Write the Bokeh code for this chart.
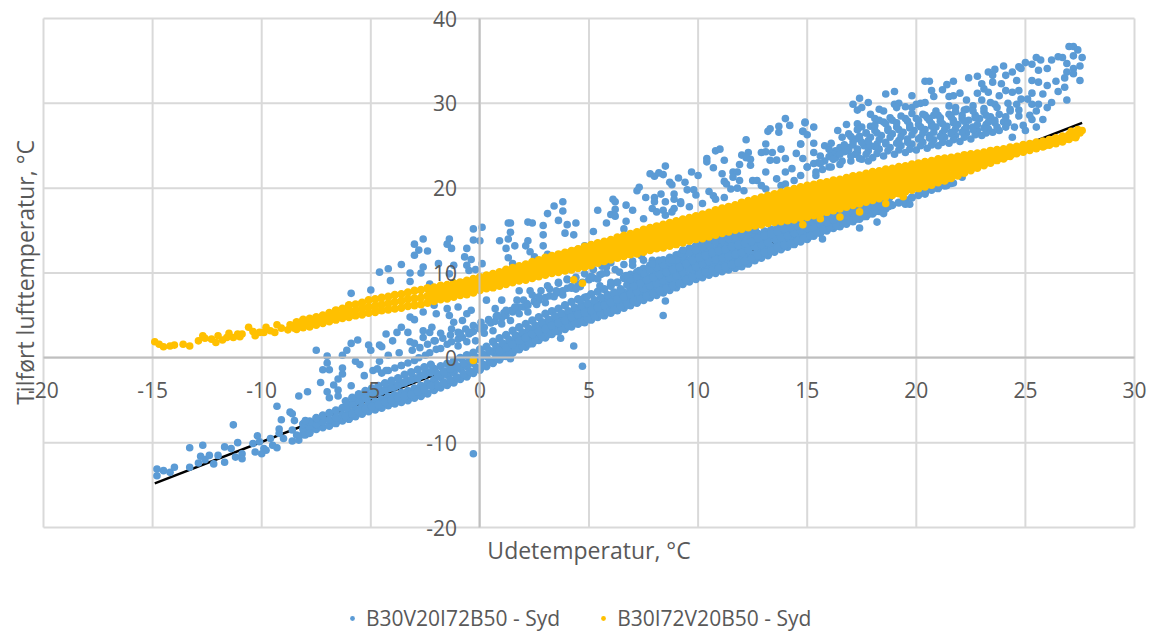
from bokeh.plotting import figure
from bokeh.models import Range1d, FixedTicker, Label, Legend, LegendItem
from bokeh.embed import file_html
from bokeh.resources import INLINE
import math

series_names = ["B30V20I72B50 - Syd", "B30I72V20B50 - Syd"]
x_ticks = [-20, -15, -10, -5, 0, 5, 10, 15, 20, 25, 30]
y_ticks = [-20, -10, 0, 10, 20, 30, 40]
trend_x = [-14.9, 27.6]
trend_y = [-14.8, 27.7]

yellow_x_a = [
 -8.4,-8.1,-7.8,-7.5,-7.2,-6.9,-6.6,-6.3,-6.0,-5.7,
 -5.4,-5.1,-4.8,-4.5,-4.2,-3.9,-3.6,-3.3,-3.0,-2.7,
 -2.4,-2.1,-1.8,-1.5,-1.2,-0.9,-0.6,-0.3,0.0,0.3,
 0.6,0.9,1.2,1.5,1.8,2.1,2.4,2.7,3.0,3.3,
 3.6,3.9,4.2,4.5,4.8,5.1,5.4,5.7,6.0,6.3,
 6.6,6.9,7.2,7.5,7.8,8.1,8.4,8.7,9.0,9.3,
 9.6,9.9,10.2,10.5,10.8,11.1,11.4,11.7,12.0,12.3,
 12.6,12.9,13.2,13.5,13.8,14.1,14.4,14.7,15.0,15.3,
 15.6,15.9,16.2,16.5,16.8,17.1,17.4,17.7,18.0,18.3,
 18.6,18.9,19.2,19.5,19.8,20.1,20.4,20.7,21.0,21.3,
 21.6,21.9,22.2,22.5,22.8,23.1,23.4,23.7,24.0,24.3,
 24.6,24.9,25.2,25.5,25.8,26.1,26.4,26.7,27.0,27.3]
yellow_top = [
 4.2,4.5,4.6,4.8,5.0,5.3,5.6,5.8,6.2,6.3,
 6.5,6.8,6.9,7.1,7.2,7.4,7.5,7.7,7.9,8.0,
 8.2,8.3,8.5,8.6,8.8,8.9,9.1,9.3,9.5,9.7,
 9.9,10.1,10.4,10.6,10.8,11.0,11.3,11.5,11.8,12.0,
 12.2,12.4,12.6,12.8,13.1,13.3,13.5,13.7,13.9,14.2,
 14.4,14.6,14.8,15.1,15.3,15.5,15.7,15.9,16.1,16.3,
 16.5,16.7,16.9,17.1,17.4,17.6,17.8,18.0,18.3,18.5,
 18.7,18.9,19.1,19.3,19.5,19.7,19.9,20.1,20.3,20.4,
 20.6,20.7,20.9,21.0,21.2,21.4,21.5,21.7,21.9,22.0,
 22.2,22.3,22.5,22.6,22.8,22.9,23.1,23.2,23.4,23.5,
 23.6,23.7,23.9,24.0,24.1,24.2,24.4,24.5,24.6,24.8,
 24.9,25.1,25.2,25.4,25.5,25.7,25.9,26.1,26.3,26.5]
yellow_bottom = [
 3.4,3.6,3.7,3.9,4.1,4.3,4.5,4.7,4.8,5.0,
 5.1,5.3,5.4,5.6,5.7,5.8,5.9,6.1,6.2,6.3,
 6.5,6.7,6.9,7.0,7.2,7.4,7.5,7.7,8.0,8.2,
 8.3,8.5,8.7,8.9,9.1,9.2,9.4,9.6,9.8,10.0,
 10.1,10.3,10.4,10.6,10.7,10.9,11.2,11.4,11.6,11.8,
 12.0,12.2,12.3,12.5,12.7,12.9,13.0,13.2,13.4,13.6,
 13.8,14.0,14.1,14.3,14.5,14.7,14.9,15.1,15.2,15.4,
 15.6,15.7,15.9,16.0,16.1,16.2,16.3,16.5,16.6,16.8,
 17.0,17.2,17.4,17.6,17.8,18.0,18.2,18.4,18.6,18.8,
 19.0,19.2,19.4,19.6,19.8,20.0,20.2,20.4,20.7,20.9,
 21.2,21.5,21.8,22.1,22.4,22.7,23.0,23.3,23.5,23.8,
 24.1,24.3,24.5,24.7,24.9,25.1,25.3,25.5,25.8,26.0]
yellow_mid = [
 3.8,4.0,4.2,4.3,4.5,4.8,5.0,5.2,5.5,5.6,
 5.8,6.0,6.1,6.3,6.4,6.6,6.7,6.9,7.0,7.1,
 7.3,7.5,7.7,7.8,8.0,8.1,8.3,8.5,8.7,8.9,
 9.1,9.3,9.5,9.7,9.9,10.1,10.3,10.5,10.8,11.0,
 11.1,11.3,11.5,11.7,11.9,12.1,12.3,12.5,12.7,13.0,
 13.2,13.4,13.5,13.8,14.0,14.2,14.3,14.5,14.7,14.9,
 15.1,15.3,15.5,15.7,15.9,16.1,16.3,16.5,16.7,16.9,
 17.1,17.3,17.5,17.6,17.8,17.9,18.1,18.3,18.4,18.6,
 18.8,19.0,19.1,19.3,19.5,19.7,19.8,20.0,20.2,20.4,
 20.6,20.7,20.9,21.1,21.3,21.4,21.6,21.8,22.0,22.2,
 22.4,22.6,22.8,23.0,23.2,23.4,23.7,23.9,24.0,24.3,
 24.5,24.7,24.9,25.1,25.2,25.4,25.6,25.8,26.0,26.2]
yellow_x_b = [
 -2.25,-1.95,-1.65,-1.35,-1.05,-0.75,-0.45,-0.15,0.15,0.45,
 0.75,1.05,1.35,1.65,1.95,2.25,2.55,2.85,3.15,3.45,
 3.75,4.05,4.35,4.65,4.95,5.25,5.55,5.85,6.15,6.45,
 6.75,7.05,7.35,7.65,7.95,8.25,8.55,8.85,9.15,9.45,
 9.75,10.05,10.35,10.65,10.95,11.25,11.55,11.85,12.15,12.45,
 12.75,13.05,13.35,13.65,13.95,14.25,14.55,14.85,15.15,15.45,
 15.75,16.05,16.35,16.65,16.95,17.25,17.55,17.85,18.15,18.45,
 18.75,19.05,19.35,19.65,19.95,20.25,20.55,20.85,21.15,21.45,
 21.75,22.05,22.35,22.65,22.95,23.25,23.55,23.85,24.15,24.45]
yellow_upper = [
 7.9,8.0,8.2,8.3,8.5,8.6,8.8,9.0,9.2,9.4,
 9.6,9.8,10.1,10.3,10.5,10.7,10.9,11.1,11.4,11.6,
 11.8,12.0,12.2,12.4,12.6,12.8,13.0,13.2,13.4,13.7,
 13.9,14.1,14.3,14.6,14.8,15.0,15.1,15.3,15.5,15.7,
 15.9,16.1,16.3,16.5,16.8,17.0,17.2,17.4,17.6,17.8,
 18.0,18.2,18.4,18.6,18.7,18.9,19.1,19.3,19.4,19.6,
 19.8,19.9,20.1,20.3,20.4,20.6,20.8,21.0,21.1,21.3,
 21.5,21.6,21.8,21.9,22.1,22.2,22.4,22.6,22.8,22.9,
 23.2,23.3,23.5,23.6,23.8,23.9,24.2,24.3,24.4,24.6]
yellow_lower = [
 7.0,7.2,7.4,7.5,7.7,7.8,8.0,8.2,8.5,8.6,
 8.8,9.0,9.2,9.4,9.6,9.8,9.9,10.2,10.4,10.6,
 10.7,10.9,11.0,11.2,11.4,11.6,11.8,12.0,12.2,12.4,
 12.7,12.9,13.0,13.2,13.4,13.6,13.7,13.9,14.1,14.3,
 14.5,14.7,14.9,15.1,15.3,15.5,15.7,15.9,16.0,16.2,
 16.4,16.5,16.8,16.9,17.0,17.1,17.3,17.5,17.6,17.8,
 18.0,18.2,18.4,18.6,18.7,18.9,19.1,19.3,19.5,19.7,
 19.9,20.1,20.3,20.4,20.7,20.8,21.0,21.2,21.5,21.6,
 21.9,22.1,22.4,22.6,22.9,23.1,23.4,23.6,23.8,24.1]
yellow_fill_top = [
 12.1,12.3,12.5,12.7,12.9,13.1,13.3,13.5,13.7,14.0,
 14.2,14.4,14.6,14.9,15.1,15.3,15.5,15.7,15.9,16.1,
 16.3,16.5,16.7,16.9,17.2,17.4,17.6,17.8,18.1,18.3,
 18.4,18.6,18.8,19.0,19.2,19.4,19.6,19.8,20.0,20.1,
 20.3,20.4,20.6,20.7,20.9,21.1,21.2,21.4,21.6,21.7,
 21.9,22.0,22.2,22.3,22.5,22.6,22.8,23.0,23.2,23.3]
yellow_fill_up = [
 11.5,11.7,11.9,12.1,12.3,12.5,12.7,12.9,13.1,13.4,
 13.6,13.8,13.9,14.2,14.4,14.6,14.7,14.9,15.1,15.3,
 15.5,15.7,15.9,16.1,16.4,16.6,16.8,17.0,17.2,17.4,
 17.6,17.8,18.0,18.1,18.3,18.4,18.6,18.8,18.9,19.1,
 19.3,19.5,19.6,19.8,19.9,20.1,20.3,20.5,20.6,20.8,
 21.0,21.2,21.4,21.5,21.7,21.8,22.0,22.2,22.4,22.5]
yellow_fill_down = [
 10.9,11.1,11.3,11.4,11.6,11.8,12.0,12.2,12.4,12.7,
 12.9,13.1,13.2,13.5,13.7,13.9,14.0,14.2,14.4,14.6,
 14.8,15.0,15.2,15.4,15.6,15.8,16.0,16.2,16.3,16.5,
 16.7,16.9,17.1,17.2,17.4,17.5,17.7,17.9,18.0,18.2,
 18.4,18.6,18.7,18.9,19.1,19.3,19.4,19.6,19.8,20.0,
 20.2,20.4,20.6,20.7,20.9,21.1,21.3,21.5,21.7,21.9]
yellow_fill_bottom = [
 10.4,10.6,10.7,10.9,11.0,11.3,11.5,11.7,11.9,12.1,
 12.3,12.5,12.7,12.9,13.0,13.2,13.4,13.5,13.8,14.0,
 14.1,14.3,14.5,14.7,14.9,15.1,15.3,15.5,15.6,15.8,
 16.0,16.1,16.3,16.5,16.6,16.7,16.8,17.0,17.1,17.3,
 17.5,17.7,17.9,18.1,18.3,18.5,18.7,18.9,19.1,19.3,
 19.5,19.7,19.9,20.0,20.3,20.4,20.6,20.8,21.1,21.2]
yellow_extra_x = [
 -14.9,-14.7,-14.5,-14.2,-14.0,-13.6,-13.3,-12.9,-12.7,-12.6,-12.3,-12.1,-12.0,-11.8,-11.6,-11.5,-11.3,-11.1,-11.0,-10.9,
 -10.6,-10.4,-10.3,-10.1,-9.9,-9.8,-9.6,-9.4,-9.3,-9.1,-8.8,-8.7,-8.5,
 27.6,27.5,27.4,27.1,26.9,26.4,25.9,-0.3,4.3,4.7,16.5,17.4,18.6,19.4,14.8,15.6]
yellow_extra_y = [
 1.9,1.6,1.3,1.4,1.5,1.6,1.4,2.0,2.6,2.3,2.2,1.8,2.6,2.1,2.4,2.9,2.4,2.8,2.5,2.8,
 3.6,3.1,2.6,3.0,3.0,3.6,3.2,3.0,3.9,3.5,3.3,3.9,3.5,
 26.8,26.5,26.9,26.7,25.8,25.6,25.0,-0.3,9.2,8.8,16.6,17.2,18.2,19.0,15.7,16.4]

blue_x_a = [
 -8.1,-7.8,-7.5,-7.2,-6.9,-6.6,-6.3,-6.0,-5.7,-5.4,
 -5.1,-4.8,-4.5,-4.2,-3.9,-3.6,-3.3,-3.0,-2.7,-2.4,
 -2.1,-1.8,-1.5,-1.2,-0.9,-0.6,-0.3,0.0,0.3,0.6,
 0.9,1.2,1.5,1.8,2.1,2.4,2.7,3.0,3.3,3.6,
 3.9,4.2,4.5,4.8,5.1,5.4,5.7,6.0,6.3,6.6,
 6.9,7.2,7.5,7.8,8.1,8.4,8.7,9.0,9.3,9.6,
 9.9,10.2,10.5,10.8,11.1,11.4,11.7,12.0,12.3,12.6,
 12.9,13.2,13.5,13.8,14.1,14.4,14.7,15.0,15.3,15.6,
 15.9,16.2,16.5,16.8,17.1,17.4,17.7,18.0,18.3,18.6,
 18.9,19.2,19.5,19.8,20.1,20.4,20.7,21.0,21.3,21.6]
blue_low = [
 -9.0,-8.7,-8.4,-8.2,-8.0,-7.7,-7.4,-7.2,-6.9,-6.6,
 -6.3,-6.1,-5.9,-5.6,-5.4,-5.2,-5.0,-4.7,-4.5,-4.2,
 -3.8,-3.5,-3.2,-2.9,-2.5,-2.2,-1.8,-1.4,-1.0,-0.6,
 -0.2,0.2,0.6,1.0,1.3,1.7,2.1,2.4,2.8,3.1,
 3.4,3.7,4.0,4.2,4.5,4.8,5.0,5.3,5.6,5.9,
 6.2,6.5,6.8,7.1,7.4,7.7,8.0,8.3,8.7,9.0,
 9.3,9.5,9.8,10.0,10.2,10.4,10.6,10.8,11.1,11.5,
 11.8,12.1,12.5,12.8,13.1,13.4,13.7,14.0,14.4,14.7,
 15.0,15.3,15.5,15.8,16.1,16.4,16.7,17.0,17.3,17.6,
 18.0,18.3,18.6,18.9,19.2,19.5,19.8,20.0,20.3,20.6]
blue_mid = [
 -8.4,-8.1,-7.8,-7.5,-7.3,-7.0,-6.7,-6.4,-6.1,-5.8,
 -5.4,-5.2,-4.9,-4.6,-4.4,-4.1,-3.9,-3.6,-3.3,-3.0,
 -2.6,-2.3,-2.0,-1.7,-1.3,-1.0,-0.6,-0.2,0.2,0.7,
 1.1,1.5,1.9,2.3,2.7,3.1,3.5,3.8,4.2,4.5,
 4.8,5.2,5.5,5.7,6.0,6.3,6.6,6.9,7.3,7.7,
 8.0,8.3,8.7,9.0,9.3,9.6,9.9,10.2,10.6,11.0,
 11.3,11.6,11.9,12.1,12.3,12.5,12.8,13.0,13.2,13.6,
 13.9,14.1,14.4,14.7,14.9,15.2,15.4,15.7,15.9,16.2,
 16.4,16.7,16.9,17.1,17.4,17.6,17.8,18.1,18.3,18.6]
blue_high = [
 -7.8,-7.5,-7.1,-6.8,-6.5,-6.2,-5.9,-5.6,-5.2,-4.9,
 -4.5,-4.2,-3.9,-3.6,-3.4,-3.0,-2.7,-2.4,-2.1,-1.7,
 -1.3,-1.0,-0.7,-0.4,0.0,0.3,0.6,1.0,1.3,1.9,
 2.3,2.7,3.2,3.6,4.0,4.4,4.8,5.2,5.5,5.8,
 6.2,6.6,6.9,7.1,7.5,7.8,8.1,8.5,8.9,9.4,
 9.8,10.1,10.5,10.9,11.2,11.5,11.8,12.1,12.5,12.9,
 13.2,13.6,13.9,14.2,14.4,14.6,14.9,15.1,15.3,15.6,
 15.9,16.1,16.3,16.5,16.7,16.9,17.1,17.3,17.4,17.6,
 17.8,18.0,18.2,18.4,18.6,18.7,18.9,19.1,19.3,19.5]
blue_x_b = [
 -1.95,-1.65,-1.35,-1.05,-0.75,-0.45,-0.15,0.15,0.45,0.75,
 1.05,1.35,1.65,1.95,2.25,2.55,2.85,3.15,3.45,3.75,
 4.05,4.35,4.65,4.95,5.25,5.55,5.85,6.15,6.45,6.75,
 7.05,7.35,7.65,7.95,8.25,8.55,8.85,9.15,9.45,9.75,
 10.05,10.35,10.65,10.95,11.25,11.55,11.85,12.15,12.45,12.75,
 13.05,13.35,13.65,13.95,14.25,14.55,14.85,15.15,15.45,15.75,
 16.05,16.35,16.65,16.95,17.25,17.55,17.85,18.15,18.45,18.75]
blue_lower = [
 -3.2,-2.9,-2.6,-2.3,-1.9,-1.6,-1.2,-0.8,-0.4,0.1,
 0.5,0.9,1.3,1.7,2.0,2.4,2.8,3.1,3.5,3.8,
 4.1,4.5,4.8,5.0,5.3,5.6,5.8,6.1,6.5,6.8,
 7.1,7.4,7.8,8.1,8.4,8.7,9.0,9.3,9.7,10.0,
 10.3,10.6,10.9,11.1,11.3,11.5,11.7,11.9,12.2,12.6,
 12.9,13.1,13.5,13.8,14.0,14.3,14.6,14.9,15.2,15.5,
 15.7,16.0,16.2,16.5,16.8,17.0,17.3,17.6,17.8,18.1]
blue_upper = [
 -1.9,-1.6,-1.3,-1.0,-0.6,-0.3,0.0,0.4,0.8,1.3,
 1.7,2.1,2.6,3.0,3.4,3.8,4.2,4.5,4.9,5.2,
 5.5,5.9,6.2,6.4,6.8,7.1,7.4,7.7,8.1,8.6,
 8.9,9.2,9.6,10.0,10.3,10.6,10.9,11.2,11.6,12.0,
 12.3,12.6,12.9,13.2,13.4,13.6,13.9,14.1,14.3,14.6,
 14.9,15.1,15.4,15.6,15.8,16.1,16.3,16.5,16.7,16.9,
 17.1,17.4,17.6,17.8,18.0,18.2,18.4,18.6,18.8,19.1]
blue_fill_a = [
 0.2,0.6,1.0,1.4,1.7,2.1,2.5,2.8,3.2,3.5,
 3.8,4.1,4.4,4.6,4.9,5.2,5.4,5.7,6.1,6.4,
 6.7,7.0,7.3,7.6,7.9,8.2,8.5,8.8,9.2,9.5,
 9.8,10.1,10.3,10.5,10.7,11.0,11.2,11.4,11.7,12.1,
 12.4,12.6,13.0,13.3,13.5,13.8,14.1,14.4,14.8,15.1,
 15.4,15.6,15.9,16.2,16.4,16.7,17.0,17.3,17.5,17.9]
blue_fill_b = [
 0.8,1.2,1.6,2.0,2.4,2.8,3.1,3.4,3.8,4.1,
 4.4,4.8,5.1,5.3,5.6,5.9,6.2,6.5,6.9,7.2,
 7.5,7.8,8.2,8.5,8.8,9.1,9.4,9.7,10.1,10.5,
 10.8,11.1,11.4,11.6,11.8,12.0,12.2,12.4,12.7,13.1,
 13.4,13.6,14.0,14.2,14.4,14.7,15.0,15.3,15.5,15.8,
 16.0,16.3,16.5,16.8,17.1,17.3,17.5,17.8,18.0,18.3]
blue_fill_c = [
 8.5,8.8,9.2,9.5,9.8,10.1,10.4,10.7,11.1,11.5,
 11.8,12.1,12.4,12.6,12.8,13.1,13.3,13.5,13.7,14.1,
 14.4,14.6,14.9,15.2,15.4,15.6,15.9,16.1,16.3,16.5,
 16.7,17.0,17.2,17.4,17.7,17.9,18.1,18.4,18.6,18.8]
blue_fill_d = [
 9.3,9.6,10.0,10.4,10.7,11.0,11.3,11.6,12.0,12.4,
 12.7,13.1,13.4,13.7,13.9,14.1,14.4,14.6,14.8,15.1]
blue_x_c = [-6.15,-5.85,-5.55,-5.25,-4.95,-4.65,-4.35,-4.05,-3.75,-3.45,-3.15,-2.85,-2.55,-2.25]
blue_fill_e = [-6.9,-6.6,-6.3,-6.0,-5.7,-5.5,-5.2,-5.0,-4.7,-4.5,-4.3,-4.0,-3.7,-3.3]
blue_fill_f = [-5.8,-5.4,-5.0,-4.7,-4.4,-4.1,-3.8,-3.5,-3.2,-2.9,-2.6,-2.4,-2.0,-1.7]
blue_fill_g = [-5.1,-4.7,-4.3,-3.9,-3.6,-3.3,-3.0,-2.7,-2.4,-2.0,-1.7,-1.4,-1.1,-0.8]
blue_gap_x = [
 -4.5,-4.2,-3.9,-3.6,-3.3,-3.0,-2.8,-2.5,-2.3,-2.0,-1.8,-1.5,-1.3,-1.0,-0.8,-0.5,-0.3,0.0,0.2,0.5,
 0.7,1.0,1.2,1.5,1.7,2.0,2.2,2.5,2.7,3.0,3.2,3.5,3.7,4.0,4.2,4.5,4.7,5.0,5.2,5.5,
 -3.1,-2.75,-2.4,-2.05,-1.7,-1.35,-1.0,-0.65,-0.3,0.05,0.4,0.75,1.1,1.45,1.8,2.15,2.5,
 -1.0,-0.6,-0.2,0.2,0.6,1.0,1.4,1.8,2.2,2.6,3.0,3.4,3.8,4.2,4.6,5.0,5.4,5.8,6.2,6.6,7.0,7.4,
 -0.4,0.0,0.4,0.8,1.2,1.6,2.0,2.4,2.8,3.2,3.6,4.0,4.4,4.8,5.2,5.6,6.0]
blue_gap_y = [
 -1.8,-1.5,-1.2,-0.9,-0.6,-0.3,0.0,0.3,0.6,1.0,1.1,1.6,1.9,2.2,2.4,2.8,3.1,3.4,3.6,4.1,
 4.3,4.7,5.0,5.4,5.7,6.0,6.2,6.6,6.8,7.1,7.3,7.6,7.8,8.2,8.4,8.7,8.9,9.3,9.4,9.8,
 0.9,1.2,1.6,2.0,2.3,2.7,3.0,3.4,3.8,4.2,4.5,4.9,5.3,5.6,6.0,6.4,6.7,
 1.4,1.9,2.0,2.9,3.2,4.0,4.4,5.2,5.4,6.3,6.5,7.2,7.4,8.2,8.4,9.2,9.3,10.0,10.4,11.0,11.4,12.0,
 3.0,3.6,4.4,5.0,5.6,6.0,6.8,7.4,7.9,8.1,8.8,9.2,9.5,9.9,10.4,10.8,11.2]

blue_left_x = [
 -14.8,-14.8,-14.5,-14.2,-14.0,-13.3,-13.3,-12.9,-12.8,-12.7,-12.6,-12.4,-12.2,-12.0,-11.7,-11.7,-11.4,-11.2,-11.3,-11.1,
 -10.9,-10.9,-10.4,-10.2,-10.3,-10.1,-9.9,-10.0,-9.8,-9.6,-9.5,-9.3,-9.3,-9.2,-9.1,-9.2,-9.0,-8.7,-8.6,-8.5,-8.6,-8.6,-8.3,-8.3,-8.0,-8.4,-8.0,-7.8,-7.9,
 -7.5,-7.3,-7.2,-7.0,-7.0,-6.9,-7.0,-6.9,-6.7,-6.5,-6.5,-6.5,-6.3,-6.3,-6.3,-6.1,-5.9,-5.6,-5.9,-5.7,-5.5,-5.3,-5.1,-5.0,-4.9,-4.7,-4.6,-4.5,-4.6,-4.3,-4.3,-4.2,-4.0,-3.8,-3.7,-3.6,-3.6,-3.3,-3.2,-3.2,-3.0,-3.0,-2.6,-2.6,-2.6,-2.3,-2.2,-2.1,-2.1,-1.8,-2.0,-1.5,-1.4,-1.3,-1.2,-1.0,-0.8,-0.9,-0.6,-0.5,-0.4,
 -5.9,-5.0,-4.6,-4.2,-4.1,-3.6,-3.2,-3.2,-3.0,-2.6,-3.0,-2.8,-2.4,-2.6,-2.7,-2.3,-1.5,-1.4,-1.3,-1.2,-1.4,-1.9,-0.6,-0.7,-0.4,-0.6,-0.3,-0.3,-0.5,-0.2,-0.3]
blue_left_y = [
 -13.1,-13.9,-13.3,-13.5,-12.9,-10.6,-12.9,-12.4,-11.6,-10.3,-12.0,-11.5,-12.5,-11.5,-10.5,-12.3,-10.7,-11.7,-7.9,-10.0,
 -11.3,-11.9,-10.1,-9.2,-11.1,-9.9,-10.7,-11.3,-10.9,-9.5,-10.3,-5.7,-10.6,-8.4,-7.3,-8.9,-9.5,-6.4,-6.6,-7.4,-8.5,-9.8,-9.7,-4.5,-7.4,-9.1,-9.1,-8.9,-4.0,
 0.9,-2.9,-1.4,-0.6,0.2,-1.4,-4.0,-4.7,-3.2,-3.8,-4.5,-2.5,-1.9,-1.2,0.3,0.9,1.7,2.1,-3.3,-0.4,-0.8,-2.1,1.5,0.9,-1.5,-1.3,1.5,1.3,-0.4,2.8,-1.5,0.3,2.0,3.0,0.6,3.6,-0.9,3.0,1.9,4.8,4.5,1.7,3.2,2.4,5.4,3.0,3.6,2.0,6.2,2.9,5.2,5.8,5.0,3.4,4.2,6.0,4.4,2.9,5.2,3.0,5.6,
 7.6,8.0,10.1,10.5,9.1,11.0,10.0,9.0,13.4,14.0,12.1,12.7,12.6,10.7,10.0,8.7,13.4,14.0,12.9,10.9,9.9,11.1,12.9,11.9,11.6,10.9,13.9,15.2,10.3,10.4,-11.3]

blue_under_x = [
 0.3,1.0,0.7,1.7,1.8,2.3,2.7,3.1,3.6,3.5,3.8,4.0,4.4,4.6,4.9,5.1,5.5,5.6,5.8,6.0,6.4,7.0,7.3,7.5,7.9,8.2,8.8,9.2,9.3,7.9,6.7,
 3.7,4.3,4.7,8.4,8.5,1.4,
 15.7,17.4,18.2,18.5,19.5,19.7,20.4,20.8,21.4,21.7,22.1]
blue_under_y = [
 6.8,6.8,5.8,6.8,7.9,7.9,7.2,8.5,8.9,7.9,7.9,9.3,8.1,6.8,7.2,9.6,8.5,9.9,10.7,8.9,10.1,10.9,10.3,11.5,11.5,11.5,11.5,12.3,12.7,11.1,9.7,
 2.3,1.4,-1.0,5.0,6.7,-0.1,
 14.0,15.3,16.0,17.0,18.1,18.1,19.3,20.0,20.3,20.6,21.3]

blue_above_x = [
 0.1,0.0,1.3,1.4,1.4,1.3,0.9,1.2,1.6,1.3,1.5,0.1,2.1,2.2,2.3,2.5,2.2,2.4,2.9,2.9,2.9,3.1,3.4,3.8,3.8,3.6,4.0,4.4,4.3,3.9,4.5,4.8,3.1,
 5.2,5.4,6.0,6.2,6.1,6.2,6.2,5.8,6.6,6.7,6.7,7.0,7.2,7.3,7.6,7.5,8.0,8.0,7.9,8.1,8.3,8.5,8.4,8.5,7.8,8.0,8.2,8.4,8.5,8.7,8.8,9.1,9.4,9.7,10.0,9.5,9.8,9.9,8.9,8.9,9.2,9.2,8.9,9.6,8.8,
 10.2,10.5,10.7,10.8,10.4,10.4,10.7,10.8,11.0,11.2,11.1,11.2,11.3,11.6,11.8,11.9,11.6,11.9,11.5,11.8,11.2,12.1,12.5,12.0,12.3,12.2,13.1,13.2,13.3,13.7,13.7,14.0,14.2,14.9,14.8,14.7,13.1,12.9,12.4,13.4,13.8,13.3,13.6,14.0,14.5,14.3,14.0,13.6,13.1,12.7,13.1,12.9,14.4,14.7,15.0,14.8,12.2,12.4,13.8,14.0]
blue_above_y = [
 15.4,13.8,15.9,15.9,14.8,14.0,13.8,12.9,13.2,11.8,11.1,11.1,13.2,13.8,12.5,11.9,16.0,15.9,15.6,14.5,13.2,17.0,17.9,18.4,17.3,16.2,15.7,15.9,14.5,14.7,12.8,13.2,12.2,
 14.9,17.4,16.9,18.4,18.7,17.5,16.7,15.9,15.2,16.1,18.0,17.4,19.7,20.1,18.9,16.4,18.9,18.4,17.6,17.2,19.3,18.4,17.4,16.8,21.7,21.4,21.8,21.6,22.6,20.7,20.4,21.2,20.7,21.9,21.5,19.8,19.8,19.2,19.3,18.7,18.4,18.2,17.6,17.8,17.2,
 18.2,19.6,19.1,18.7,23.1,23.5,22.4,24.4,24.6,23.3,21.7,20.8,20.5,21.9,21.9,22.8,21.3,20.9,19.9,20.0,18.9,19.7,20.9,23.9,24.2,25.7,25.2,26.7,27.0,26.6,27.3,28.2,27.4,27.7,26.7,25.2,24.3,24.2,23.4,24.2,24.6,23.3,23.3,23.5,24.1,22.3,21.9,21.1,21.9,20.9,19.9,20.3,20.9,21.5,22.5,23.5,23.6,22.7,20.3,20.5]

blue_top_x = [
 14.9,15.3,14.8,15.0,14.7,15.3,15.3,15.6,16.4,16.8,16.9,17.3,17.5,17.2,16.5,16.0,16.1,16.3,16.8,15.3,15.0,15.4,
 17.1,17.4,17.3,17.5,17.8,17.9,18.1,18.3,18.5,18.6,19.0,19.0,19.2,19.1,19.5,19.8,19.8,20.0,20.2,20.4,20.4,20.6,20.7,20.8,20.9,20.4,21.2,21.4,21.7,21.5,21.7,22.0,22.3,21.5,21.8,22.2,22.6,
 22.4,22.8,22.8,23.0,23.1,23.3,23.5,23.6,23.5,24.0,23.9,23.3,24.1,23.8,23.0,23.4,23.6,24.1,24.4,24.7,25.0,25.3,25.5,25.7,26.2,26.0,25.6,24.8,24.6,24.4,24.7,25.3,25.6,26.0,26.4,26.5,26.8,26.9,26.2,25.8,25.3,25.6,26.0,25.5,24.3,24.7,25.3,25.8,25.5,24.5,24.9,25.0,24.0,24.1,23.5,23.8,24.4,
 27.0,27.2,27.4,27.2,27.6,26.7,26.5,26.9,27.5,27.2,26.9,27.2,26.8,27.5]
blue_top_y = [
 27.8,27.2,26.7,26.3,25.2,25.3,24.2,23.8,26.8,27.5,26.4,27.6,27.2,25.8,24.8,23.7,24.2,24.4,24.4,22.9,22.5,21.5,
 29.9,30.6,29.2,29.5,30.1,28.7,28.2,29.3,29.1,31.1,31.4,29.9,30.0,29.5,29.6,30.9,29.5,29.9,30.0,30.1,32.6,32.6,31.5,30.8,29.1,28.6,31.6,32.2,32.6,30.8,30.9,31.2,30.4,29.7,29.5,29.2,29.7,
 33.0,33.2,31.2,32.3,31.7,33.7,33.3,34.0,32.5,34.4,32.3,31.3,31.5,30.9,30.4,30.1,29.9,33.3,33.7,34.3,34.8,34.6,35.4,35.1,35.1,34.1,33.9,34.1,32.7,31.3,31.5,32.7,32.5,32.1,32.6,31.4,31.9,30.4,30.1,31.1,29.9,29.9,29.5,29.1,29.1,29.2,28.1,28.1,27.2,27.2,27.4,26.8,27.8,27.2,28.0,26.8,26.0,
 36.7,36.7,36.3,35.6,35.4,35.4,35.5,34.7,34.4,34.1,33.7,33.5,33.0,32.7]

blue_cloud_x = [
 16.0,15.8,16.2,16.5,16.3,16.7,17.0,17.2,16.9,17.1,17.5,17.3,17.6,17.4,17.7,18.0,17.8,18.2,17.9,18.1,
 18.5,18.3,18.6,18.4,18.7,18.5,19.0,18.8,19.2,18.9,19.1,18.9,19.5,19.3,19.6,19.4,19.7,19.5,
 20.0,19.8,20.2,19.9,20.1,20.0,20.5,20.3,20.6,20.4,20.7,20.5,21.0,20.8,21.2,20.9,21.1,21.0,
 21.5,21.3,21.6,21.4,21.7,21.5,22.0,21.8,22.2,21.9,22.1,22.5,22.3,22.6,22.4,22.7,23.0,22.8,23.2,22.9,23.1,23.5,23.3,23.6,23.4,
 15.4,15.5,15.7,15.6,15.8,16.1,16.2,16.0,16.1,16.6,16.5,16.7,16.6,17.0,16.9,17.1,17.0,
 17.4,17.3,17.5,17.4,17.3,17.8,17.7,17.9,17.8,17.7,17.9,18.2,18.1,18.3,18.2,18.1,18.3,
 18.7,18.6,18.8,18.7,18.6,18.8,19.2,19.1,19.3,19.2,19.1,19.3,19.7,19.6,19.8,19.7,19.6,19.8,
 20.2,20.1,20.3,20.2,20.1,20.3,20.7,20.6,20.8,20.7,20.6,20.8,21.2,21.1,21.3,21.2,21.1,
 21.7,21.6,21.8,21.7,21.6,21.8,22.2,22.1,22.3,22.2,22.1,22.3,22.7,22.6,22.8,22.7,22.6,
 23.2,23.1,23.3,23.2,23.1,23.7,23.6,23.8,23.7,24.2,24.1,24.3,24.2,24.7,24.6,24.8,25.2,25.1,25.3]
blue_cloud_y = [
 22.5,23.2,24.0,22.8,23.6,24.3,23.2,24.0,24.8,25.5,23.4,24.2,25.0,25.8,26.5,23.6,24.4,25.2,26.0,26.8,
 23.8,24.6,25.4,26.2,27.0,27.8,24.0,24.8,25.6,26.4,27.2,28.0,24.2,25.0,25.8,26.6,27.4,28.2,
 24.5,25.2,26.0,26.8,27.5,28.2,24.7,25.4,26.2,26.9,27.6,28.3,25.0,25.7,26.5,27.2,27.9,28.6,
 25.3,26.0,26.6,27.3,28.0,28.7,25.5,26.2,26.9,27.5,28.2,25.8,26.5,27.2,28.0,28.6,26.2,26.8,27.5,28.2,29.0,26.6,27.0,27.7,28.4,
 21.9,23.0,22.2,22.9,25.0,22.5,23.4,24.6,25.3,23.2,24.0,25.1,26.0,23.8,24.5,25.1,26.1,
 23.5,24.6,25.4,26.1,26.9,23.2,24.0,25.0,25.6,26.5,27.3,24.1,24.9,25.7,26.5,27.4,28.0,
 24.4,25.2,26.0,26.8,27.6,28.3,24.5,25.3,26.1,26.9,27.7,28.5,24.6,25.4,26.3,27.1,27.9,28.8,
 25.0,25.8,26.5,27.2,28.0,28.7,25.1,25.9,26.6,27.3,28.0,28.6,25.4,26.1,26.9,27.6,28.3,
 25.7,26.4,27.0,27.7,28.4,29.0,26.0,26.6,27.2,27.9,28.6,29.3,26.3,26.9,27.5,28.3,29.1,
 26.5,27.1,27.8,28.6,29.4,27.2,28.0,28.7,29.5,27.7,28.4,29.3,30.0,28.5,29.9,30.5,28.6,30.5,31.2]

BLUE = "#5B9BD5"
YELLOW = "#FFC000"
GRID = "#D9D9D9"
AXIS = "#BFBFBF"
TEXT = "#595959"
FONT = "Open Sans"

p = figure(width=1150, height=632, output_backend="svg", toolbar_location=None,
           x_range=Range1d(-21.971, 30.733), y_range=Range1d(-32.377, 42.122),
           min_border_left=0, min_border_right=0, min_border_top=0, min_border_bottom=0)
p.background_fill_color = "white"
p.outline_line_color = None
p.grid.visible = False

p.segment(x_ticks, [y_ticks[0]] * len(x_ticks), x_ticks, [y_ticks[-1]] * len(x_ticks),
          line_color=GRID, line_width=2)
p.segment([x_ticks[0]] * len(y_ticks), y_ticks, [x_ticks[-1]] * len(y_ticks), y_ticks,
          line_color=GRID, line_width=2)

for ax, ticks, bounds in ((p.xaxis[0], x_ticks, (-20, 30)), (p.yaxis[0], y_ticks, (-20, 40))):
    ax.ticker = FixedTicker(ticks=ticks)
    ax.major_label_overrides = {t: str(t) for t in ticks}
    ax.fixed_location = 0
    ax.bounds = bounds
    ax.axis_line_color = AXIS
    ax.axis_line_width = 2
    ax.major_tick_line_color = None
    ax.minor_tick_line_color = None
    ax.major_label_text_color = TEXT
    ax.major_label_text_font = FONT
    ax.major_label_text_font_size = "21px"
p.xaxis[0].major_label_standoff = 18
p.yaxis[0].major_label_standoff = 17

p.line(trend_x, trend_y, line_color="black", line_width=2.5)

SIZE = 7.6
CORE = 8.4
core_bx = (blue_x_a + blue_x_a[:len(blue_mid)] + blue_x_a[:len(blue_high)] + blue_x_b + blue_x_b
           + blue_x_b[10:70] + blue_x_a[30:90] + blue_x_b[30:70] + blue_x_a[50:70]
           + blue_x_c + blue_x_c + blue_x_c)
core_by = (blue_low + blue_mid + blue_high + blue_lower + blue_upper
           + blue_fill_a + blue_fill_b + blue_fill_c + blue_fill_d
           + blue_fill_e + blue_fill_f + blue_fill_g)
p.scatter(core_bx, core_by, size=CORE, fill_color=BLUE, line_color=None)
bx = blue_gap_x + blue_left_x + blue_under_x + blue_above_x + blue_top_x + blue_cloud_x
by = blue_gap_y + blue_left_y + blue_under_y + blue_above_y + blue_top_y + blue_cloud_y
r_blue = p.scatter(bx, by, size=SIZE, fill_color=BLUE, line_color=None)

core_yx = (yellow_x_a + yellow_x_a + yellow_x_a + yellow_x_b + yellow_x_b
           + yellow_x_b[20:80] + yellow_x_a[40:100] + yellow_x_a[40:100] + yellow_x_b[20:80])
core_yy = (yellow_top + yellow_bottom + yellow_mid + yellow_upper + yellow_lower
           + yellow_fill_top + yellow_fill_up + yellow_fill_down + yellow_fill_bottom)
p.scatter(core_yx, core_yy, size=CORE, fill_color=YELLOW, line_color=None)
r_yellow = p.scatter(yellow_extra_x, yellow_extra_y, size=SIZE, fill_color=YELLOW, line_color=None)

p.add_layout(Label(x=5, y=-22.7, text="Udetemperatur, °C", text_align="center", text_baseline="middle",
                   text_color=TEXT, text_font=FONT, text_font_size="23px"))
p.add_layout(Label(x=-20.83, y=10.07, text="Tilført lufttemperatur, °C", angle=math.pi/2,
                   text_align="center", text_baseline="middle",
                   text_color=TEXT, text_font=FONT, text_font_size="23px"))

legend = Legend(items=[LegendItem(label=series_names[0], renderers=[r_blue]),
                       LegendItem(label=series_names[1], renderers=[r_yellow])],
                orientation="horizontal", location=(346, 0),
                border_line_color=None, background_fill_alpha=0,
                label_text_color=TEXT, label_text_font=FONT, label_text_font_size="21px",
                glyph_width=12, glyph_height=12, label_standoff=8, spacing=37,
                margin=0, padding=3)
p.add_layout(legend, "center")

open("out.html", "w").write(file_html(p, INLINE))
